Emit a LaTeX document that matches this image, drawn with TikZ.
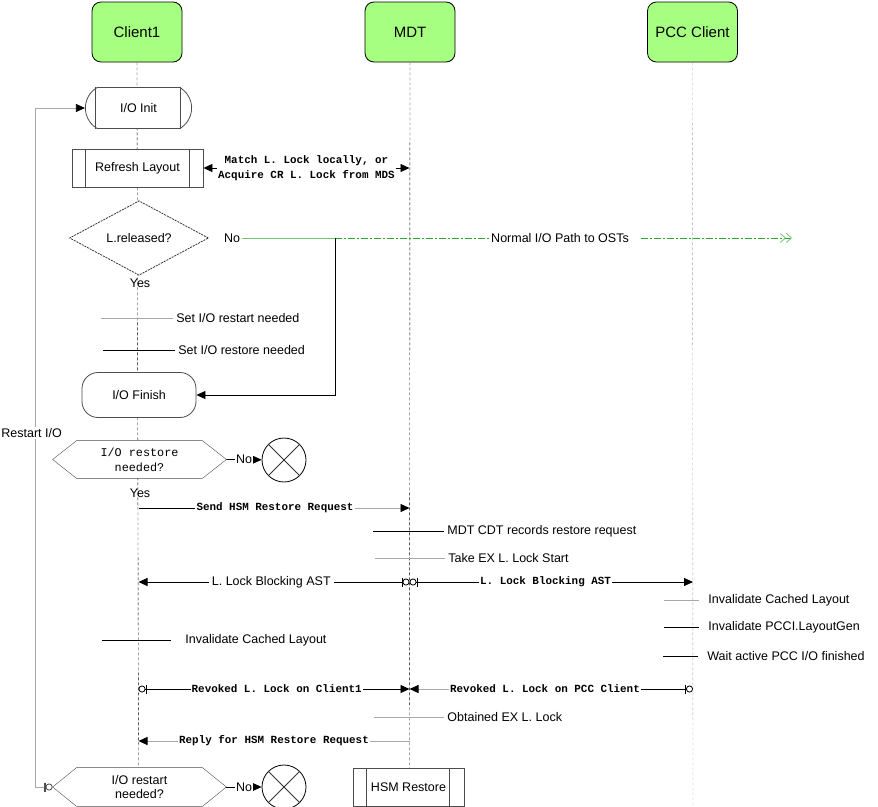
\documentclass[tikz,border=0pt]{standalone}
\usepackage{fontspec}
\setmainfont{Liberation Sans}
\newfontfamily\msgfont{Liberation Mono}
\usetikzlibrary{arrows.meta,shapes.geometric,shapes.misc,backgrounds,positioning}

% frame of a decision hexagon round a named node
\newcommand{\hexframe}[1]{%
    \draw[black!70, fill=white] (#1.west) -- ([xshift=24pt]#1.north west) -- ([xshift=-24pt]#1.north east)
        -- (#1.east) -- ([xshift=-24pt]#1.south east) -- ([xshift=24pt]#1.south west) -- cycle;}

\begin{document}
\begin{tikzpicture}[x=1pt, y=-1pt, line width=0.8pt, font=\fontsize{12.5}{14}\selectfont,
    head/.style={draw, fill=headColour, rounded corners=9pt, minimum width=90pt, minimum height=60pt, font=\fontsize{15}{17}\selectfont},
    life/.style={dash pattern=on 3pt off 2pt},
    proc/.style={draw=black!70, fill=white, minimum height=38pt},
    note/.style={anchor=west, inner sep=3pt},
    msg/.style={font=\msgfont\bfseries\fontsize{10.9}{15}\selectfont, text=black, fill=white, inner sep=1pt},
    arr/.style={-{Triangle[length=9pt,width=8pt,color=black]}},
    ohead/.style={{Circle[open,length=7pt,width=7pt]Bar[width=9pt]}-{Triangle[length=9pt,width=8pt,color=black]}},
    ring/.style={circle, draw, minimum size=44pt, inner sep=0pt}]
    \definecolor{headColour}{HTML}{A6FF80}
    \definecolor{greyLine}{HTML}{A8A8A8}
    \definecolor{pathGreen}{HTML}{2EA82E}
    \definecolor{lightPath}{HTML}{70C870}

    \def\xClient{138.5}
    \def\xMdt{409.5}
    \def\xPcc{693}

    \useasboundingbox (0,0) rectangle (878,806);

    % Draw participants
    \node[head] (client) at (137,32) {Client1};
    \node[head] (mdt) at (410,32) {MDT};
    \node[head] (pcc) at (692.5,32) {PCC Client};

    \coordinate (clientEnd) at (\xClient,768);
    \coordinate (mdtEnd) at (\xMdt,768);
    \coordinate (pccEnd) at (\xPcc,806);

    % Client1 flow
    \node[proc, rounded rectangle, rounded rectangle arc length=120, minimum width=113pt, minimum height=41pt] (init) at (\xClient,108) {I/O Init};
    \draw[black!70] ([xshift=-43pt]init.north) -- ([xshift=-43pt]init.south)
        ([xshift=42pt]init.north) -- ([xshift=42pt]init.south);

    \node[proc, minimum width=131pt] (refresh) at (137.5,168) {Refresh Layout};
    \draw[black!70] ([xshift=-52.5pt]refresh.north) -- ([xshift=-52.5pt]refresh.south)
        ([xshift=51.5pt]refresh.north) -- ([xshift=51.5pt]refresh.south);

    \coordinate (matchMdt) at (\xMdt,168);
    \draw[{Triangle[length=9pt,width=8pt]}-{Triangle[length=9pt,width=8pt]}] (refresh.east) -- node[msg, align=center] (matchLbl) {Match L. Lock locally, or\\Acquire CR L. Lock from MDS} (matchMdt);

    \node[diamond, draw=black!80, dash pattern=on 2pt off 1pt, fill=white, minimum width=139pt, minimum height=41pt, inner sep=0pt] (released) at (139,238) {L.released?};

    % Normal path
    \node[inner sep=2pt] (noPath) at (232,238) {No};
    \coordinate (split) at (335,238);
    \coordinate (osts) at (792,238);
    \node[fill=white, inner sep=2pt] (normal) at (560,238) {Normal I/O Path to OSTs};
    \draw[lightPath] (noPath) -- (split);
    \draw[pathGreen, dash pattern=on 7pt off 2pt on 2pt off 2pt] (split) -- (normal);
    \draw[pathGreen, dash pattern=on 7pt off 2pt on 2pt off 2pt,
        -{Straight Barb[length=5pt,width=9pt,color=lightPath]Straight Barb[length=5pt,width=9pt,color=lightPath]}] ([xshift=10pt]normal.east) -- (osts);

    \node (yesA) at (140,283) {Yes};

    \node[note] (rstNote) at (173,318) {Set I/O restart needed};
    \coordinate (rstFrom) at (101,318);
    \draw[greyLine] (rstFrom) -- (rstNote.west);

    \node[note] (rsoNote) at (175,350) {Set I/O restore needed};
    \coordinate (rsoFrom) at (103,350);
    \draw (rsoFrom) -- (rsoNote.west);

    \node[proc, rounded corners=16pt, minimum width=114pt, minimum height=45pt] (finish) at (139,395) {I/O Finish};
    \draw[arr] (split) |- (finish.east);

    % Restore decision
    \node[font=\msgfont\fontsize{11.8}{15}\selectfont, align=center, minimum width=173pt, minimum height=37pt, inner sep=0pt] (restoreQ) at (139.5,459.5) {I/O restore\\ needed?};
    \node[ring] (stopA) at (284,460) {};
    \draw[black!80] (stopA.north west) -- (stopA.south east) (stopA.north east) -- (stopA.south west);
    \draw[arr] (restoreQ.east) -- node[fill=white, inner sep=1pt] (noA) {No} (stopA);

    \node (yesB) at (140,493) {Yes};

    % Messages
    \coordinate (sendFrom) at (\xClient,508);
    \coordinate (sendTo) at (\xMdt,508);
    \node[msg] (sendLbl) at (275,508) {Send HSM Restore Request};
    \draw (sendFrom) -- (sendLbl);
    \draw[greyLine, arr] (sendLbl) -- (sendTo);

    \node[note] (cdtNote) at (444,531) {MDT CDT records restore request};
    \coordinate (cdtFrom) at (373,531);
    \draw (cdtFrom) -- (cdtNote.west);

    \node[note] (exNote) at (445,558) {Take EX L. Lock Start};
    \coordinate (exFrom) at (375,558);
    \draw[greyLine] (exFrom) -- (exNote.west);

    \coordinate (astClient) at (\xClient,582);
    \coordinate (astMdt) at (\xMdt,582);
    \coordinate (astPcc) at (\xPcc,582);
    \draw[ohead] (astMdt) -- node[fill=white, inner sep=3pt, pos=0.51] (astLblA) {L. Lock Blocking AST} (astClient);
    \draw[ohead] (astMdt) -- node[msg, pos=0.48] (astLblB) {L. Lock Blocking AST} (astPcc);

    \node[note] (pccInv) at (705,600) {Invalidate Cached Layout};
    \coordinate (pccInvFrom) at (664,600);
    \draw[greyLine] (pccInvFrom) -- ([xshift=-6pt]pccInv.west);

    \node[note] (pccGen) at (705,627) {Invalidate PCCI.LayoutGen};
    \coordinate (pccGenFrom) at (664,627);
    \draw (pccGenFrom) -- ([xshift=-6pt]pccGen.west);

    \node[note] (pccWait) at (704,656) {Wait active PCC I/O finished};
    \coordinate (pccWaitFrom) at (663,656);
    \draw (pccWaitFrom) -- ([xshift=-6pt]pccWait.west);

    \node[note] (cliInv) at (182,640) {Invalidate Cached Layout};
    \coordinate (cliInvFrom) at (102,640);
    \draw (cliInvFrom) -- ([xshift=-11pt]cliInv.west);

    \coordinate (revClient) at (\xClient,689);
    \coordinate (revMdt) at (\xMdt,689);
    \coordinate (revPcc) at (\xPcc,689);
    \draw[ohead] (revClient) -- node[msg, pos=0.51] (revClientLbl) {Revoked L. Lock on Client1} (revMdt);
    \node[msg] (revPccLbl) at (545,689) {Revoked L. Lock on PCC Client};
    \draw[{Circle[open,length=7pt,width=7pt]Bar[width=9pt]}-] (revPcc) -- (revPccLbl);
    \draw[greyLine, arr] (revPccLbl) -- (revMdt);

    \node[note] (obtNote) at (444,717) {Obtained EX L. Lock};
    \coordinate (obtFrom) at (374,717);
    \draw[greyLine] (obtFrom) -- (obtNote.west);

    \coordinate (replyMdt) at (\xMdt,741);
    \coordinate (replyClient) at (\xClient,741);
    \draw[greyLine, arr] (replyMdt) -- node[msg] (replyLbl) {Reply for HSM Restore Request} (replyClient);

    % Restart decision and HSM restore
    \node[align=center, minimum width=173pt, minimum height=38pt, inner sep=0pt] (restartQ) at (139.5,787) {I/O restart\\ needed?};
    \node[ring] (stopB) at (284,787) {};
    \draw[black!80] (stopB.north west) -- (stopB.south east) (stopB.north east) -- (stopB.south west);
    \draw[arr] (restartQ.east) -- node[fill=white, inner sep=1pt] (noB) {No} (stopB);

    \node[proc, minimum width=111pt] (hsm) at (408.5,787) {HSM Restore};
    \draw[black!70] ([xshift=-42.5pt]hsm.north) -- ([xshift=-42.5pt]hsm.south)
        ([xshift=40.5pt]hsm.north) -- ([xshift=40.5pt]hsm.south);

    % Restart loop
    \coordinate (loopLow) at (35,787);
    \draw[greyLine, {Circle[open,length=7pt,width=7pt,color=black!70]Bar[width=9pt,color=black!70]Bar[width=9pt,color=black!70]}-{Triangle[length=9pt,width=8pt,color=black]}] (restartQ.west) -- (loopLow) |- (init.west);
    \node[anchor=west, fill=white, inner sep=1pt] (restartLbl) at (0,433) {Restart I/O};

    % Lifelines behind everything
    \begin{scope}[on background layer]
        \draw[life] (client.south) -- (clientEnd);
        \draw[life] (mdt.south) -- (mdtEnd);
        \draw[life, greyLine] (pcc.south) -- (pccEnd);
        \hexframe{restoreQ}
        \hexframe{restartQ}
    \end{scope}

\end{tikzpicture}
\end{document}
